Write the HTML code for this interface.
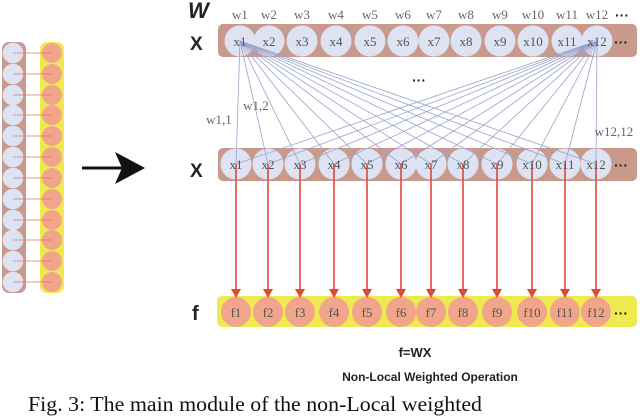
<!DOCTYPE html>
<html><head><meta charset="utf-8"><style>
body{margin:0;background:#fff;width:640px;height:417px;overflow:hidden}
svg{display:block}
</style></head><body>
<svg width="640" height="417" viewBox="0 0 640 417" xmlns="http://www.w3.org/2000/svg">
<rect x="2" y="42" width="24" height="251" rx="7" fill="#c99a8c"/>
<rect x="40" y="42" width="24" height="251" rx="7" fill="#eeea50"/>
<g fill="#dde3f2">
<circle cx="13" cy="53" r="10.3"/><circle cx="13" cy="74" r="10.3"/><circle cx="13" cy="95" r="10.3"/><circle cx="13" cy="115" r="10.3"/><circle cx="13" cy="136" r="10.3"/><circle cx="13" cy="157" r="10.3"/><circle cx="13" cy="178" r="10.3"/><circle cx="13" cy="199" r="10.3"/><circle cx="13" cy="220" r="10.3"/><circle cx="13" cy="240" r="10.3"/><circle cx="13" cy="261" r="10.3"/><circle cx="13" cy="282" r="10.3"/>
</g>
<g fill="#f1a58a">
<circle cx="52" cy="53" r="10"/><circle cx="52" cy="74" r="10"/><circle cx="52" cy="95" r="10"/><circle cx="52" cy="115" r="10"/><circle cx="52" cy="136" r="10"/><circle cx="52" cy="157" r="10"/><circle cx="52" cy="178" r="10"/><circle cx="52" cy="199" r="10"/><circle cx="52" cy="220" r="10"/><circle cx="52" cy="240" r="10"/><circle cx="52" cy="261" r="10"/><circle cx="52" cy="282" r="10"/>
</g>
<g stroke="#d9776a" stroke-width="0.8">
<line x1="13" y1="53" x2="52" y2="53"/><line x1="13" y1="74" x2="52" y2="74"/><line x1="13" y1="95" x2="52" y2="95"/><line x1="13" y1="115" x2="52" y2="115"/><line x1="13" y1="136" x2="52" y2="136"/><line x1="13" y1="157" x2="52" y2="157"/><line x1="13" y1="178" x2="52" y2="178"/><line x1="13" y1="199" x2="52" y2="199"/><line x1="13" y1="220" x2="52" y2="220"/><line x1="13" y1="240" x2="52" y2="240"/><line x1="13" y1="261" x2="52" y2="261"/><line x1="13" y1="282" x2="52" y2="282"/>
</g>
<line x1="82" y1="168" x2="125" y2="168" stroke="#111" stroke-width="3"/>
<polygon points="145,168 115,152 122,168 115,184" fill="#111"/>
<rect x="218" y="24" width="419" height="33" rx="5" fill="#c99a8c"/>
<rect x="218" y="148" width="419" height="33" rx="5" fill="#c99a8c"/>
<rect x="217" y="296" width="420" height="31" rx="5" fill="#eeea50"/>
<g fill="#dde3f2">
<circle cx="240" cy="41" r="15.5"/><circle cx="269" cy="41" r="15.5"/><circle cx="302" cy="41" r="15.5"/><circle cx="336" cy="41" r="15.5"/><circle cx="370" cy="41" r="15.5"/><circle cx="403" cy="41" r="15.5"/><circle cx="434" cy="41" r="15.5"/><circle cx="466" cy="41" r="15.5"/><circle cx="500" cy="41" r="15.5"/><circle cx="533" cy="41" r="15.5"/><circle cx="567" cy="41" r="15.5"/><circle cx="597" cy="41" r="15.5"/>
<circle cx="236" cy="164" r="15.5"/><circle cx="268" cy="164" r="15.5"/><circle cx="300" cy="164" r="15.5"/><circle cx="334" cy="164" r="15.5"/><circle cx="367" cy="164" r="15.5"/><circle cx="401" cy="164" r="15.5"/><circle cx="431" cy="164" r="15.5"/><circle cx="463" cy="164" r="15.5"/><circle cx="497" cy="164" r="15.5"/><circle cx="532" cy="164" r="15.5"/><circle cx="565" cy="164" r="15.5"/><circle cx="596" cy="164" r="15.5"/>
</g>
<g fill="#f1a58a">
<circle cx="236" cy="312" r="15"/><circle cx="268" cy="312" r="15"/><circle cx="300" cy="312" r="15"/><circle cx="334" cy="312" r="15"/><circle cx="367" cy="312" r="15"/><circle cx="401" cy="312" r="15"/><circle cx="431" cy="312" r="15"/><circle cx="463" cy="312" r="15"/><circle cx="497" cy="312" r="15"/><circle cx="532" cy="312" r="15"/><circle cx="565" cy="312" r="15"/><circle cx="596" cy="312" r="15"/>
</g>
<g stroke="#9aa2cc" stroke-width="0.8">
<line x1="240" y1="41" x2="236" y2="164"/><line x1="240" y1="41" x2="268" y2="164"/><line x1="240" y1="41" x2="300" y2="164"/><line x1="240" y1="41" x2="334" y2="164"/><line x1="240" y1="41" x2="367" y2="164"/><line x1="240" y1="41" x2="401" y2="164"/><line x1="240" y1="41" x2="431" y2="164"/><line x1="240" y1="41" x2="463" y2="164"/><line x1="240" y1="41" x2="497" y2="164"/><line x1="240" y1="41" x2="532" y2="164"/><line x1="240" y1="41" x2="565" y2="164"/><line x1="240" y1="41" x2="596" y2="164"/>
<line x1="597" y1="41" x2="236" y2="164"/><line x1="597" y1="41" x2="268" y2="164"/><line x1="597" y1="41" x2="300" y2="164"/><line x1="597" y1="41" x2="334" y2="164"/><line x1="597" y1="41" x2="367" y2="164"/><line x1="597" y1="41" x2="401" y2="164"/><line x1="597" y1="41" x2="431" y2="164"/><line x1="597" y1="41" x2="463" y2="164"/><line x1="597" y1="41" x2="497" y2="164"/><line x1="597" y1="41" x2="532" y2="164"/><line x1="597" y1="41" x2="565" y2="164"/><line x1="597" y1="41" x2="596" y2="164"/>
</g>
<g stroke="#e0463a" stroke-width="1.6">
<line x1="236" y1="164" x2="236" y2="292"/><line x1="268" y1="164" x2="268" y2="292"/><line x1="300" y1="164" x2="300" y2="292"/><line x1="334" y1="164" x2="334" y2="292"/><line x1="367" y1="164" x2="367" y2="292"/><line x1="401" y1="164" x2="401" y2="292"/><line x1="431" y1="164" x2="431" y2="292"/><line x1="463" y1="164" x2="463" y2="292"/><line x1="497" y1="164" x2="497" y2="292"/><line x1="532" y1="164" x2="532" y2="292"/><line x1="565" y1="164" x2="565" y2="292"/><line x1="596" y1="164" x2="596" y2="292"/>
</g>
<g fill="#e0463a">
<polygon points="231,289 241,289 236,298"/><polygon points="263,289 273,289 268,298"/><polygon points="295,289 305,289 300,298"/><polygon points="329,289 339,289 334,298"/><polygon points="362,289 372,289 367,298"/><polygon points="396,289 406,289 401,298"/><polygon points="426,289 436,289 431,298"/><polygon points="458,289 468,289 463,298"/><polygon points="492,289 502,289 497,298"/><polygon points="527,289 537,289 532,298"/><polygon points="560,289 570,289 565,298"/><polygon points="591,289 601,289 596,298"/>
</g>
<g font-family="Liberation Serif, serif" font-size="13" fill="#555" text-anchor="middle">
<text x="240" y="46">x1</text><text x="269" y="46">x2</text><text x="302" y="46">x3</text><text x="336" y="46">x4</text><text x="370" y="46">x5</text><text x="403" y="46">x6</text><text x="434" y="46">x7</text><text x="466" y="46">x8</text><text x="500" y="46">x9</text><text x="533" y="46">x10</text><text x="567" y="46">x11</text><text x="597" y="46">x12</text>
<text x="236" y="169">x1</text><text x="268" y="169">x2</text><text x="300" y="169">x3</text><text x="334" y="169">x4</text><text x="367" y="169">x5</text><text x="401" y="169">x6</text><text x="431" y="169">x7</text><text x="463" y="169">x8</text><text x="497" y="169">x9</text><text x="532" y="169">x10</text><text x="565" y="169">x11</text><text x="596" y="169">x12</text>
<text x="236" y="317">f1</text><text x="268" y="317">f2</text><text x="300" y="317">f3</text><text x="334" y="317">f4</text><text x="367" y="317">f5</text><text x="401" y="317">f6</text><text x="431" y="317">f7</text><text x="463" y="317">f8</text><text x="497" y="317">f9</text><text x="532" y="317">f10</text><text x="565" y="317">f11</text><text x="596" y="317">f12</text>
</g>
<g font-family="Liberation Serif, serif" font-size="13" fill="#666" text-anchor="middle">
<text x="240" y="19">w1</text><text x="269" y="19">w2</text><text x="302" y="19">w3</text><text x="336" y="19">w4</text><text x="370" y="19">w5</text><text x="403" y="19">w6</text><text x="434" y="19">w7</text><text x="466" y="19">w8</text><text x="500" y="19">w9</text><text x="533" y="19">w10</text><text x="567" y="19">w11</text><text x="597" y="19">w12</text>
<text x="219" y="124">w1,1</text><text x="256" y="110">w1,2</text><text x="614" y="136">w12,12</text>
</g>
<g font-family="Liberation Sans, sans-serif" font-weight="bold" fill="#222">
<text x="615" y="20" font-size="14">···</text>
<text x="614" y="47" font-size="14">···</text>
<text x="614" y="170" font-size="14">···</text>
<text x="614" y="318" font-size="14">···</text>
<text x="412" y="85" font-size="14">···</text>
<text x="188" y="18" font-size="22" font-style="italic">W</text>
<text x="190" y="50" font-size="19">X</text>
<text x="190" y="177" font-size="19">X</text>
<text x="192" y="320" font-size="20">f</text>
<text x="415" y="357" font-size="13" text-anchor="middle">f=WX</text>
<text x="430" y="381" font-size="12" text-anchor="middle">Non-Local Weighted Operation</text>
</g>
<text x="28" y="411" font-family="Liberation Serif, serif" font-size="21.5" fill="#111" textLength="454" lengthAdjust="spacingAndGlyphs">Fig. 3: The main module of the non-Local weighted</text>
</svg>
</body></html>
